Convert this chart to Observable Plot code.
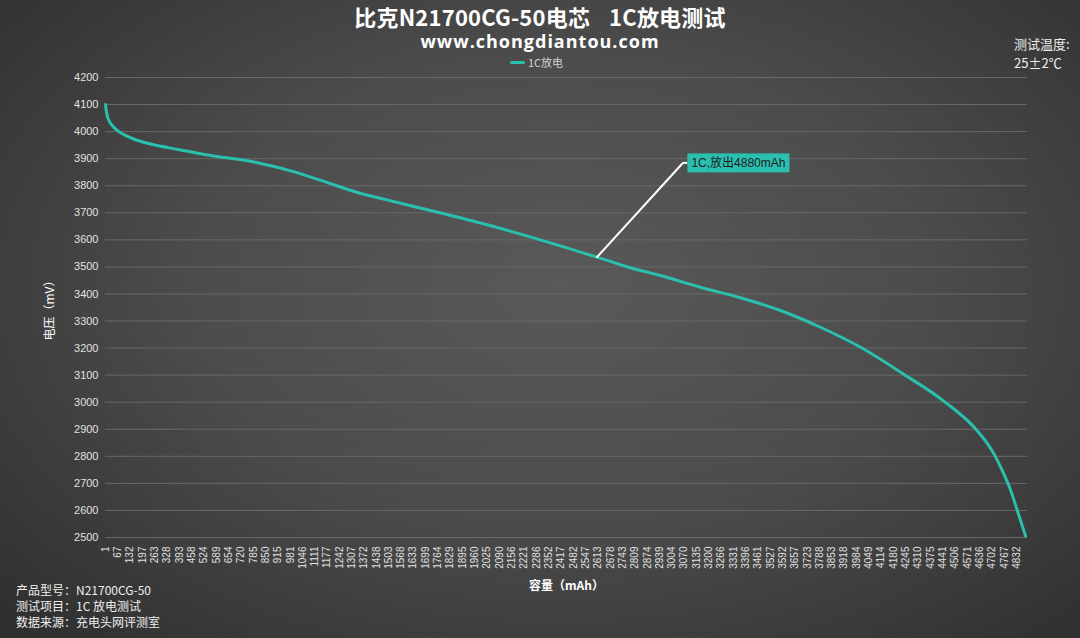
<!DOCTYPE html>
<html><head><meta charset="utf-8">
<script src="https://cdn.jsdelivr.net/npm/d3@7"></script>
<script src="https://cdn.jsdelivr.net/npm/@observablehq/plot@0.6"></script>
<style>
html,body{margin:0;padding:0;}
body{width:1080px;height:638px;overflow:hidden;
 background:radial-gradient(ellipse 75% 80% at 52% 45%, #595959 0%, #4c4c4c 45%, #2c2c2c 100%);
 font-family:"Noto Sans CJK SC","Noto Sans",sans-serif;color:#fff;}
#wrap{position:relative;width:1080px;height:638px;}
#chart{position:absolute;left:0;top:0;}
.ov{position:absolute;white-space:nowrap;}
#title{left:0;width:1080px;top:3px;text-align:center;font-size:22px;line-height:26px;font-weight:bold;letter-spacing:0.2px;}
#title .gap{display:inline-block;width:19px;}
#sub{left:0;width:1080px;top:29px;text-align:center;font-size:18px;line-height:24px;font-weight:bold;font-family:"Open Sans","Noto Sans",sans-serif;letter-spacing:1px;}
#legend{left:510px;top:54px;font-size:11px;color:#d0d0d0;display:flex;align-items:center;}
#legend i{display:inline-block;width:15px;height:3px;background:#29c0ae;border-radius:2px;margin-right:3px;}
#temp{left:1014px;top:34px;font-size:13px;line-height:19px;color:#eee;}
#notes{left:16px;top:582px;font-size:12px;line-height:16px;color:#eee;}
</style></head>
<body>
<div id="wrap">
<div id="chart"></div>
<div class="ov" id="title">比克N21700CG-50电芯<span class="gap"></span>1C放电测试</div>
<div class="ov" id="sub">www.chongdiantou.com</div>
<div class="ov" id="legend"><i></i>1C放电</div>
<div class="ov" id="temp">测试温度:<br>25±2℃</div>
<div class="ov" id="notes">产品型号：N21700CG-50<br>测试项目：1C 放电测试<br>数据来源：充电头网评测室</div>
</div>
<script>
const capacity = [1, 4, 10, 20, 40, 70, 110, 160, 235, 394, 589, 720, 801, 890, 978, 1155, 1333, 1509, 1775, 2040, 2306, 2607, 2784, 2943, 3155, 3367, 3580, 3792, 4005, 4217, 4465, 4606, 4712, 4756, 4801, 4836, 4880];
const voltage  = [4100, 4082, 4058, 4040, 4020, 4001, 3985, 3970, 3955, 3933, 3908, 3896, 3886, 3872, 3856, 3817, 3776, 3745, 3700, 3653, 3600, 3536, 3497, 3468, 3425, 3386, 3339, 3277, 3203, 3111, 2994, 2908, 2809, 2748, 2674, 2600, 2505];
const xTickLabels = [1,67,132,197,263,328,393,458,524,589,654,720,785,850,915,981,1046,1111,1177,1242,1307,1372,1438,1503,1568,1633,1699,1764,1829,1895,1960,2025,2090,2156,2221,2286,2352,2417,2482,2547,2613,2678,2743,2809,2874,2939,3004,3070,3135,3200,3266,3331,3396,3461,3527,3592,3657,3723,3788,3853,3918,3984,4049,4114,4180,4245,4310,4375,4441,4506,4571,4636,4702,4767,4832];
const yTicks = [2500,2600,2700,2800,2900,3000,3100,3200,3300,3400,3500,3600,3700,3800,3900,4000,4100,4200];
const annoCap = [2607, 3060];
const annoVolt = [3536, 3882];
const annoText = "1C,放出4880mAh";

const data = capacity.map((c, i) => ({c, v: voltage[i]}));
const anno = annoCap.map((c, i) => ({c, v: annoVolt[i]}));

const plot = Plot.plot({
  width: 1080, height: 638,
  marginLeft: 105, marginRight: 53, marginTop: 77, marginBottom: 101,
  style: {background: "transparent", color: "#ddd", fontFamily: "'Liberation Sans','Noto Sans CJK SC',sans-serif"},
  x: {domain: [1, 4890], ticks: xTickLabels, tickFormat: d => String(d), tickRotate: -90, tickSize: 0, tickPadding: 9,
      label: "容量（mAh）", labelAnchor: "center", labelOffset: 52, labelArrow: "none"},
  y: {domain: [2500, 4200], ticks: yTicks, tickFormat: d => String(d), tickSize: 0, tickPadding: 7,
      label: "电压（mV）", labelAnchor: "center", labelOffset: 60, labelArrow: "none"},
  marks: [
    Plot.gridY(yTicks, {stroke: "#686868", strokeOpacity: 1, strokeWidth: 1}),
    Plot.line(data, {x: "c", y: "v", stroke: "#29c0ae", strokeWidth: 3, curve: "monotone-x"}),
    Plot.line(anno, {x: "c", y: "v", stroke: "#ffffff", strokeWidth: 2}),
    Plot.text([anno[1]], {x: "c", y: "v", text: () => annoText, textAnchor: "start", dx: 9, fill: "#1d1d1d", fontSize: 12, className: "anno-label"})
  ]
});
document.getElementById("chart").appendChild(plot);

d3.select(plot).selectAll("[aria-label='x-axis tick label'] text").attr("font-size", 10).attr("fill", "#e0e0e0");
d3.select(plot).selectAll("[aria-label='y-axis tick label'] text").attr("font-size", 11).attr("fill", "#e0e0e0");
d3.select(plot).selectAll("[aria-label='x-axis label'] text")
  .attr("font-size", 12).attr("fill", "#ffffff").attr("font-family", "'Noto Sans CJK SC',sans-serif").attr("font-weight", "bold");
d3.select(plot).selectAll("[aria-label='y-axis label'] text")
  .attr("font-size", 12).attr("fill", "#ffffff").attr("font-family", "'Noto Sans CJK SC',sans-serif");

const g = plot.querySelector(".anno-label");
if (g) {
  const t = g.querySelector("text");
  const bb = t.getBBox();
  const tr = t.getAttribute("transform");
  const rect = document.createElementNS("http://www.w3.org/2000/svg", "rect");
  rect.setAttribute("x", bb.x - 4); rect.setAttribute("y", bb.y - 2);
  rect.setAttribute("width", bb.width + 8); rect.setAttribute("height", bb.height + 4);
  rect.setAttribute("fill", "#2bbfb0");
  if (tr) rect.setAttribute("transform", tr);
  g.insertBefore(rect, t);
  const ln = document.createElementNS("http://www.w3.org/2000/svg", "line");
  ln.setAttribute("x1", bb.x - 9); ln.setAttribute("x2", bb.x - 4);
  ln.setAttribute("y1", bb.y + bb.height/2); ln.setAttribute("y2", bb.y + bb.height/2);
  ln.setAttribute("stroke", "#fff"); ln.setAttribute("stroke-width", 2);
  if (tr) ln.setAttribute("transform", tr);
  g.insertBefore(ln, rect);
}
</script>
</body></html>
